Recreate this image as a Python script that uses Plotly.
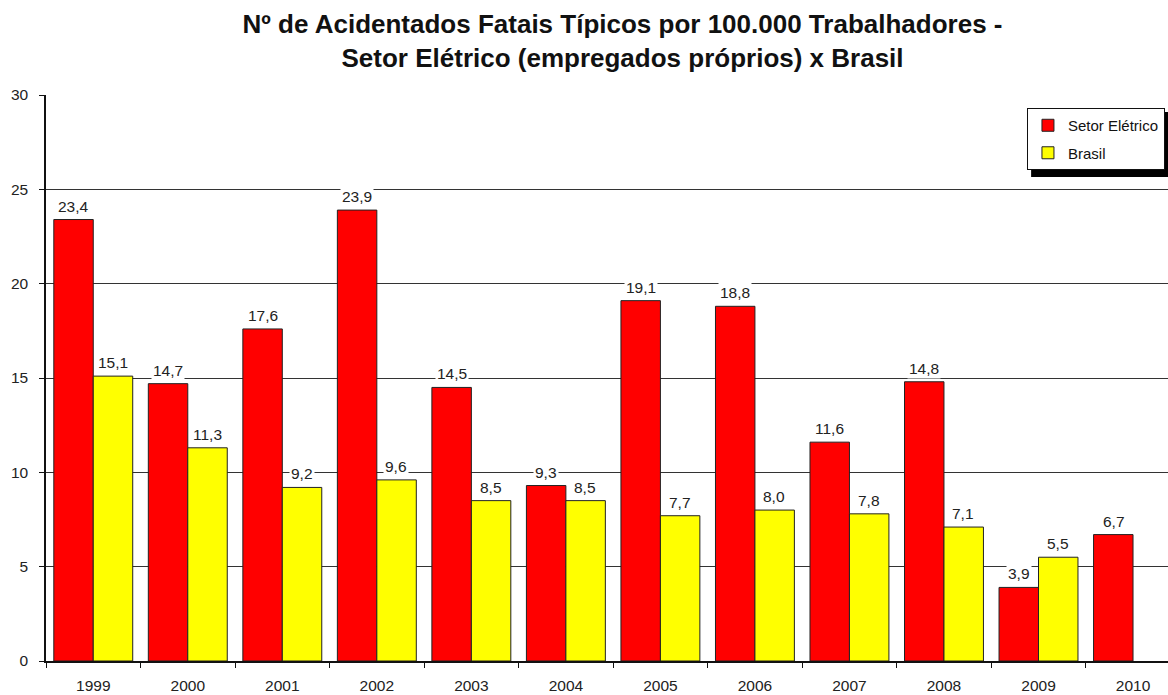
import plotly.graph_objects as go

years = ["1999", "2000", "2001", "2002", "2003", "2004", "2005", "2006", "2007", "2008", "2009", "2010"]
setor_eletrico = [23.4, 14.7, 17.6, 23.9, 14.5, 9.3, 19.1, 18.8, 11.6, 14.8, 3.9, 6.7]
brasil = [15.1, 11.3, 9.2, 9.6, 8.5, 8.5, 7.7, 8.0, 7.8, 7.1, 5.5, None]

series = [
    ("Setor Elétrico", setor_eletrico, "#ff0000", -19.5),
    ("Brasil", brasil, "#ffff00", 19.5),
]

FONT = "Liberation Sans, Arial, sans-serif"
fmt = lambda v: f"{v:.1f}".replace(".", ",")

fig = go.Figure()
annotations = []
for name, vals, color, shift in series:
    fig.add_trace(go.Bar(
        x=years, y=vals, name=name, legendgroup=name,
        marker=dict(color=color, line=dict(color="#222222", width=1)),
    ))
    for i, v in enumerate(vals):
        if v is None:
            continue
        annotations.append(dict(
            x=i, y=v, xref="x", yref="y", text=fmt(v), showarrow=False,
            xshift=shift, yshift=3, yanchor="bottom",
            font=dict(family=FONT, size=15.5, color="#222222"),
            bgcolor="white", borderpad=1,
        ))

fig.update_layout(
    width=1168, height=695,
    margin=dict(l=46, r=0, t=95, b=34),
    paper_bgcolor="white", plot_bgcolor="white",
    barmode="group", bargap=0.165, bargroupgap=0,
    font=dict(family=FONT, color="#222222"),
    title=dict(
        text="<b>Nº de Acidentados Fatais Típicos por 100.000 Trabalhadores -<br>Setor Elétrico (empregados próprios) x Brasil</b>",
        x=0.533, xanchor="center", y=0.952, yanchor="middle",
        font=dict(family=FONT, size=26, color="#111111"),
    ),
    showlegend=True,
    legend=dict(
        x=0.8743, y=0.977, xanchor="left", yanchor="top",
        bgcolor="white", bordercolor="#111111", borderwidth=1,
        font=dict(family=FONT, size=15, color="#111111"),
        itemwidth=30, tracegroupgap=5,
    ),
    annotations=annotations,
    shapes=[dict(
        type="rect", xref="paper", yref="paper", layer="above",
        x0=0.8780, x1=1.0, y0=0.855, y1=0.970,
        fillcolor="black", line=dict(width=0),
    )],
    xaxis=dict(
        type="category", range=[-0.5, 11.37],
        showline=True, linecolor="#111111", linewidth=1.5,
        ticks="outside", tickson="boundaries", ticklen=5, tickcolor="#111111",
        tickfont=dict(family=FONT, size=15.5, color="#222222"), ticklabelstandoff=10,
        showgrid=False,
    ),
    yaxis=dict(
        range=[0, 30], tickvals=[0, 5, 10, 15, 20, 25, 30],
        showline=True, linecolor="#111111", linewidth=1.5,
        ticks="outside", ticklen=5, tickcolor="#111111",
        tickfont=dict(family=FONT, size=15.5, color="#222222"), ticklabelstandoff=8,
        showgrid=True, gridcolor="#333333", gridwidth=1,
        zeroline=False,
    ),
)

fig.write_html(
    "out.html",
    config={"displayModeBar": False},
    post_script="document.body.style.margin='0';document.body.style.overflow='hidden';",
)
